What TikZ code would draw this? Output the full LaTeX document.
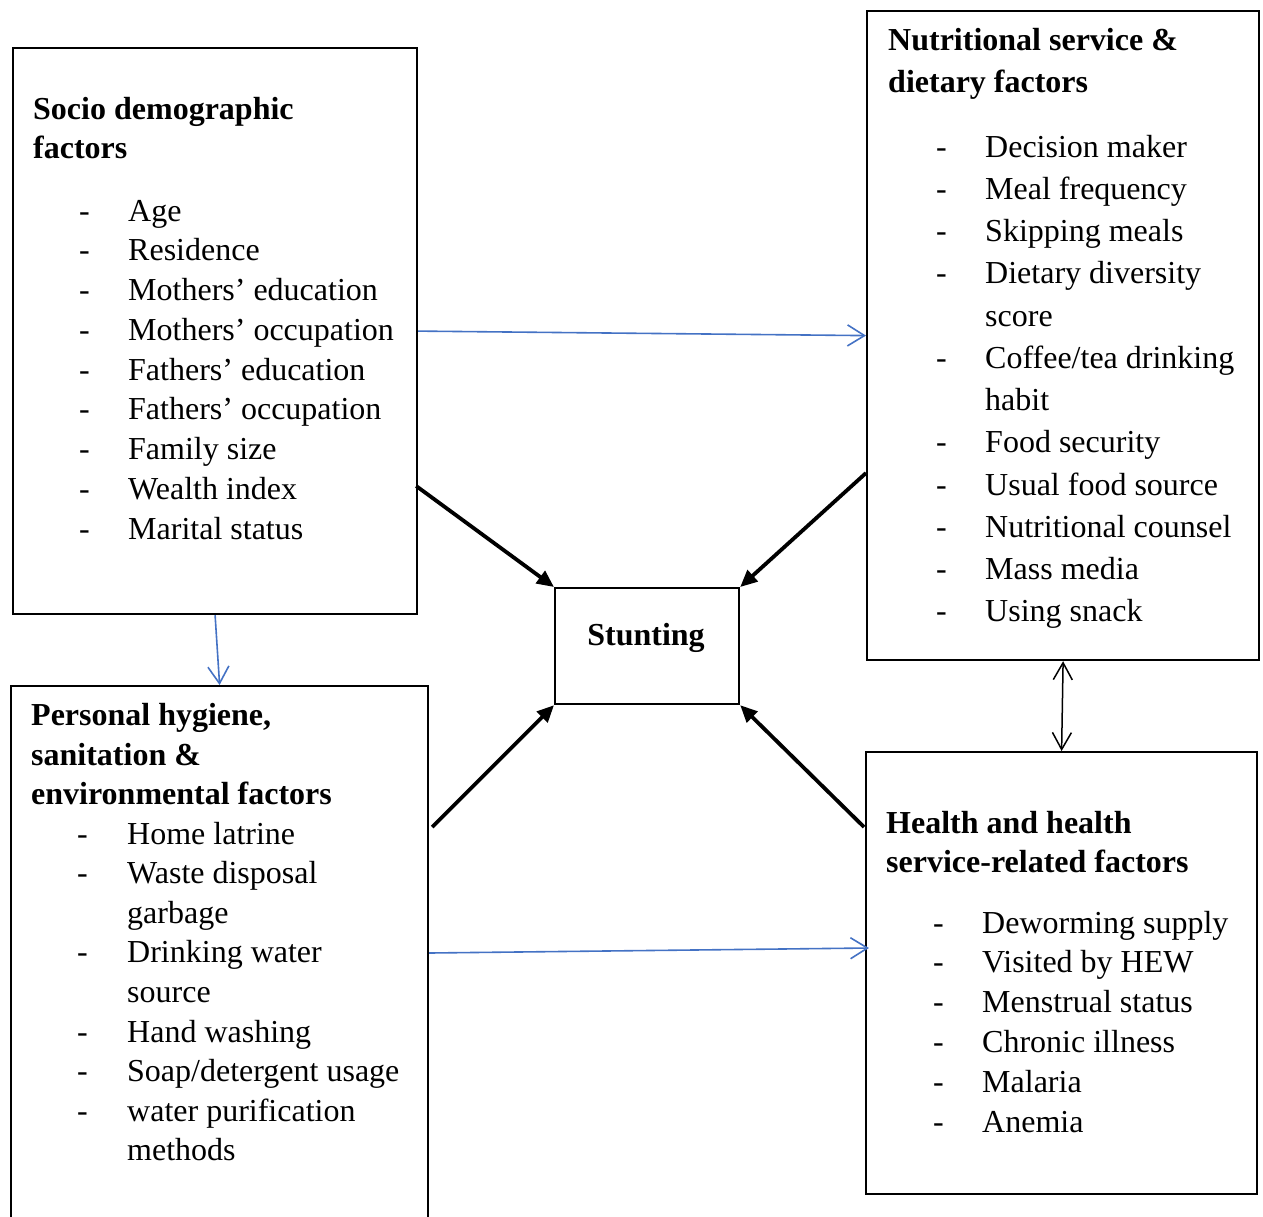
\documentclass[tikz,border=0pt]{standalone}
\usepackage{fontspec}
\setmainfont{Liberation Serif}
\usetikzlibrary{arrows.meta,calc}
\definecolor{blueA}{RGB}{68,114,196}
\tikzset{
  box/.style={draw, line width=2.2pt, inner sep=0pt, anchor=north west},
  txt/.style={inner sep=0pt, anchor=base west, font=\fontsize{32}{40}\selectfont},
  hd/.style={inner sep=0pt, anchor=base west, font=\fontsize{32}{40}\selectfont\bfseries},
  bluearrow/.style={draw=blueA, line width=1.6pt, -{Straight Barb[length=17pt,width=21pt]}},
  thickarrow/.style={line width=3.8pt, -{Triangle[length=17pt,width=15pt]}},
  dblarrow/.style={line width=1.5pt, {Straight Barb[length=17pt,width=19pt]}-{Straight Barb[length=17pt,width=19pt]}}
}
\begin{document}
\begin{tikzpicture}[x=1pt,y=-1pt]
\useasboundingbox (0,0) rectangle (1263,1216);
% boxes
\node[box, minimum width=404pt, minimum height=566pt] (socio) at (12,47) {};
\node[box, minimum width=392pt, minimum height=649pt] (nutr) at (866,10) {};
\node[box, minimum width=184pt, minimum height=116pt] (stunt) at (554,587) {};
\node[box, minimum width=417pt, minimum height=560pt] (hyg) at (10,685) {};
\node[box, minimum width=391pt, minimum height=442pt] (health) at (865,751) {};
% Stunting
\node[hd, anchor=base] (stunttxt) at (646,645) {Stunting};
% Socio demographic
\node[hd] (sh1) at (33,119) {Socio demographic};
\node[hd] (sh2) at (33,158) {factors};
\foreach \t [count=\i from 0] in {Age, Residence, Mothers’ education, Mothers’ occupation, Fathers’ education, Fathers’ occupation, Family size, Wealth index, Marital status}{
  \node[txt] (st\i) at (128,221+\i*39.75) {\t};
  \node[txt] (sd\i) at (79,221+\i*39.75) {-};
}
% Nutritional
\node[hd] (nh1) at (888,50) {Nutritional service \&};
\node[hd] (nh2) at (888,92) {dietary factors};
\foreach \t [count=\i from 0] in {Decision maker, Meal frequency, Skipping meals, Dietary diversity, score, Coffee/tea drinking, habit, Food security, Usual food source, Nutritional counsel, Mass media, Using snack}{
  \node[txt] (nt\i) at (985,157+\i*42.27) {\t};
}
\foreach \i in {0,1,2,3,5,7,8,9,10,11}{
  \node[txt] (nd\i) at (936,157+\i*42.27) {-};
}
% Personal hygiene
\node[hd] (hh1) at (31,725) {Personal hygiene,};
\node[hd] (hh2) at (31,765) {sanitation \&};
\node[hd] (hh3) at (31,804) {environmental factors};
\foreach \t [count=\i from 0] in {Home latrine, Waste disposal, garbage, Drinking water, source, Hand washing, Soap/detergent usage, water purification, methods}{
  \node[txt] (ht\i) at (127,844+\i*39.6) {\t};
}
\foreach \i in {0,1,3,5,6,7}{
  \node[txt] (hd\i) at (77,844+\i*39.6) {-};
}
% Health
\node[hd] (eh1) at (886,833) {Health and health};
\node[hd] (eh2) at (886,872) {service-related factors};
\foreach \t [count=\i from 0] in {Deworming supply, Visited by HEW, Menstrual status, Chronic illness, Malaria, Anemia}{
  \node[txt] (et\i) at (982,933+\i*39.8) {\t};
  \node[txt] (ed\i) at (933,933+\i*39.8) {-};
}
% connectors
\draw[bluearrow] (socio.east) -- (nutr.west);
\draw[bluearrow] (socio.south) -- (hyg.north);
\draw[bluearrow] ($(hyg.north east)+(0,268)$) -- ($(health.north west)+(4,197)$);
\draw[dblarrow] (nutr.south) -- (health.north);
\draw[thickarrow] ($(socio.north east)+(-2,439)$) -- (stunt.north west);
\draw[thickarrow] ($(nutr.north west)+(0,463)$) -- (stunt.north east);
\draw[thickarrow] ($(hyg.north east)+(3,142)$) -- (stunt.south west);
\draw[thickarrow] ($(health.north west)+(-1,76)$) -- (stunt.south east);
\end{tikzpicture}
\end{document}
